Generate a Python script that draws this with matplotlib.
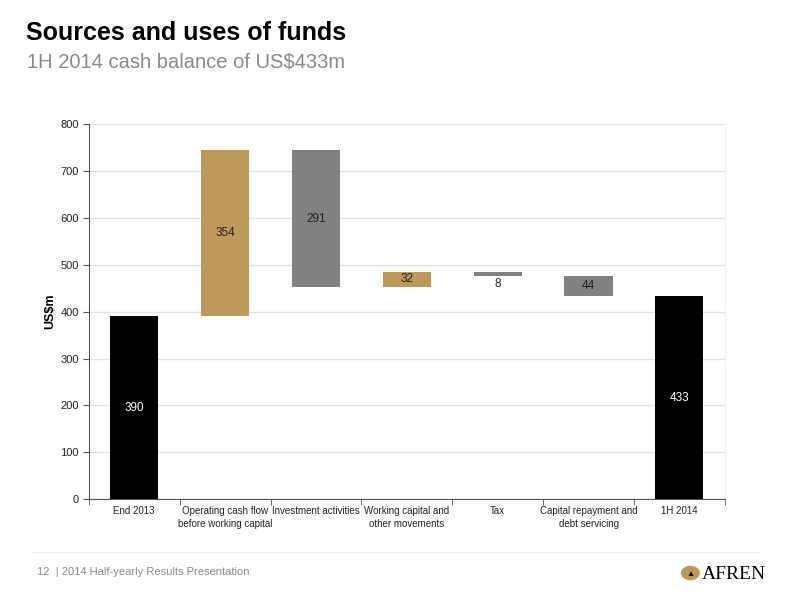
import numpy as np
import matplotlib
matplotlib.use("Agg")
import matplotlib.pyplot as plt
from matplotlib.patches import Circle

categories = ["End 2013", "Operating cash flow\nbefore working capital", "Investment activities",
              "Working capital and\nother movements", "Tax", "Capital repayment and\ndebt servicing", "1H 2014"]
start_value = 390
changes = [354, -291, 32, -8, -44]
end_value = 433
y_ticks = [0, 100, 200, 300, 400, 500, 600, 700, 800]

GOLD = "#BE9A58"
GREY = "#818184"
BLACK = "#000000"

# waterfall geometry derived from data
cum = start_value + np.cumsum(changes)
prev = np.concatenate([[start_value], cum[:-1]])
bottoms = [0] + list(np.minimum(prev, cum)) + [0]
heights = [start_value] + [abs(c) for c in changes] + [end_value]
colors = [BLACK] + [GOLD if c > 0 else GREY for c in changes] + [BLACK]
labels = [str(start_value)] + [str(abs(c)) for c in changes] + [str(end_value)]

plt.rcParams['font.family'] = ['Liberation Sans', 'DejaVu Sans']

fig = plt.figure(figsize=(8, 6), dpi=100)
ax = fig.add_axes([0.111, 0.168, 0.795, 0.625])
x = np.arange(len(categories))
bars = ax.bar(x, heights, bottom=bottoms, color=colors, width=0.53, zorder=3)

for i, (b, h, lab) in enumerate(zip(bottoms, heights, labels)):
    tc = "white" if colors[i] == BLACK else "#222222"
    if h < 15:
        ax.text(i, b - 6, lab, ha="center", va="top", fontsize=8.5, color="#222222", zorder=4)
    else:
        ax.text(i, b + h / 2, lab, ha="center", va="center", fontsize=8.5, color=tc, zorder=4)

ax.set_ylim(0, 800)
ax.set_xlim(-0.5, len(categories) - 0.5)
ax.set_yticks(y_ticks)
ax.set_yticklabels([str(v) for v in y_ticks], fontsize=8, color="#222222")
ax.set_xticks(x)
ax.set_xticklabels(categories, fontsize=7, color="#222222", linespacing=1.35)
ax.tick_params(axis='x', length=0, pad=5)
ax.set_xticks(np.arange(len(categories) + 1) - 0.5, minor=True)
ax.tick_params(axis='x', which='minor', length=4, direction='out', color="#555555")
ax.tick_params(axis='y', length=4, direction='out', color="#555555", pad=3)
ax.yaxis.grid(True, color="#E2E2E2", linewidth=1.0, zorder=0)
ax.set_axisbelow(True)
ax.spines["top"].set_visible(False)
ax.spines["right"].set_color("#F2F2F2")
ax.spines["left"].set_color("#555555")
ax.spines["bottom"].set_color("#555555")
ax.set_ylabel("US$m", fontsize=9, fontweight="bold", labelpad=3)

fig.text(0.033, 0.933, "Sources and uses of funds", fontsize=18, fontweight="bold", color="black", va="baseline")
fig.text(0.034, 0.888, "1H 2014 cash balance of US$433m", fontsize=14.5, color="#8A8A8A", va="baseline")

# footer
fig.add_artist(plt.Line2D([0.04, 0.95], [0.08, 0.08], color="#EEEEEE", linewidth=1))
fig.text(0.046, 0.041, "12  | 2014 Half-yearly Results Presentation", fontsize=8, color="#8A8A8A", va="baseline")
fig.add_artist(Circle((0.863, 0.045), 0.011, transform=fig.transFigure, color=GOLD))
fig.text(0.863, 0.043, "\u25B2", fontsize=6, color="black", ha="center", va="center")
fig.text(0.877, 0.035, "AFREN", fontsize=14, family=['Liberation Serif'], color="black", va="baseline")

fig.savefig("out.png", dpi=100)
